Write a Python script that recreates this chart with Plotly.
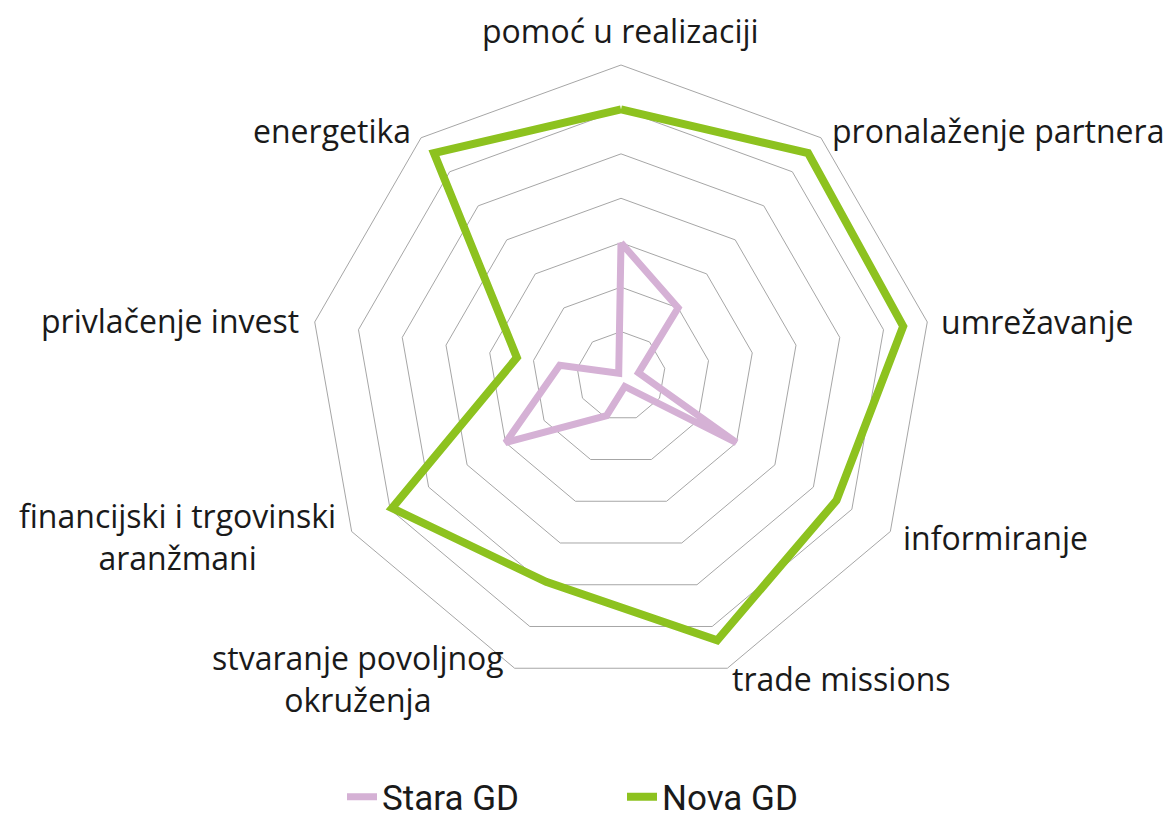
import plotly.graph_objects as go

# ---------------- data ----------------
categories = [
    "pomoć u realizaciji",
    "pronalaženje partnera",
    "umrežavanje",
    "informiranje",
    "trade missions",
    "stvaranje povoljnog okruženja",
    "financijski i trgovinski aranžmani",
    "privlačenje invest",
    "energetika",
]
label_lines = [
    "pomoć u realizaciji",
    "pronalaženje partnera",
    "umrežavanje",
    "informiranje",
    "trade missions",
    "stvaranje povoljnog<br>okruženja",
    "financijski i trgovinski<br>aranžmani",
    "privlačenje invest",
    "energetika",
]
stara_gd = [3.0, 2.0, 0.4, 3.0, 0.25, 0.95, 3.0, 1.4, 0.08]
nova_gd = [6.0, 6.55, 6.45, 5.6, 6.33, 4.93, 5.95, 2.38, 6.55]
series_names = ["Stara GD", "Nova GD"]

# ---------------- styling ----------------
W, H = 1173, 821
OFF = 8  # page body margin offset (screen px -> figure px)
PINK = "#D5B1D5"
GREEN = "#8DC21F"
GRID = "#A6A6A6"
TXT = "#1A1A1A"
LABEL_FONT = "Open Sans"

cx, cy, R = 621, 376, 311  # polar centre / radius in screen px


def px_x(x):
    return (x - OFF) / W


def px_y(y):
    return 1 - (y - OFF) / H


fig = go.Figure()

for name, vals, col, w in [
    (series_names[0], stara_gd, PINK, 7),
    (series_names[1], nova_gd, GREEN, 8),
]:
    fig.add_trace(
        go.Scatterpolar(
            r=vals + vals[:1],
            theta=categories + categories[:1],
            mode="lines",
            name=name,
            line=dict(color=col, width=w),
            hoverinfo="skip",
        )
    )

fig.update_layout(
    width=W,
    height=H,
    margin=dict(l=0, r=0, t=0, b=0, autoexpand=False),
    paper_bgcolor="white",
    plot_bgcolor="white",
    polar=dict(
        domain=dict(x=[px_x(cx - R), px_x(cx + R)], y=[px_y(cy + R), px_y(cy - R)]),
        bgcolor="white",
        gridshape="linear",
        radialaxis=dict(
            range=[0, 7],
            dtick=1,
            showticklabels=False,
            ticks="",
            showline=False,
            gridcolor=GRID,
            gridwidth=1,
        ),
        angularaxis=dict(
            direction="clockwise",
            rotation=90,
            showgrid=False,
            showticklabels=False,
            ticks="",
            showline=True,
            linecolor=GRID,
            linewidth=1,
        ),
    ),
    showlegend=True,
    legend=dict(
        orientation="h",
        x=px_x(342),
        xanchor="left",
        y=px_y(797),
        yanchor="middle",
        font=dict(family="Roboto", size=35, color=TXT),
        entrywidth=235,
        bgcolor="rgba(0,0,0,0)",
    ),
)

# category labels (centres of the text boxes, in screen px)
label_pos = [
    (620, 30),
    (998, 131),
    (1037, 322),
    (995, 537),
    (841, 678),
    (358, 678),
    (177, 536),
    (170, 320),
    (332, 131),
]
for txt, (x, y) in zip(label_lines, label_pos):
    fig.add_annotation(
        x=px_x(x),
        y=px_y(y),
        xref="paper",
        yref="paper",
        text=txt,
        showarrow=False,
        xanchor="center",
        yanchor="middle",
        align="center",
        font=dict(family=LABEL_FONT, size=32, color=TXT),
    )

fig.write_html("out.html")
